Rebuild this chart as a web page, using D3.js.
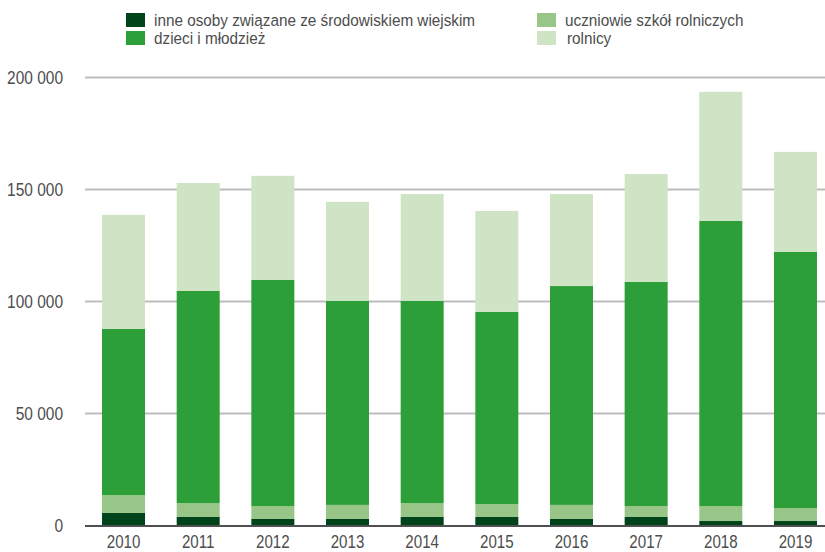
<!DOCTYPE html>
<html><head><meta charset="utf-8">
<script src="https://cdn.jsdelivr.net/npm/d3@7"></script>
<style>
body{margin:0;background:#fff;}
text{font-family:"Liberation Sans",Arial,sans-serif;}
</style></head>
<body><svg id="c" width="825" height="552"></svg>
<script>
const years = ["2010","2011","2012","2013","2014","2015","2016","2017","2018","2019"];
const inne = [5600,3800,2900,2900,3800,3800,2900,3800,2000,2000];
const uczniowie = [8000,6200,5800,6300,6200,5800,6300,4900,6700,5800];
const dzieci = [74200,94700,100900,91100,90300,85800,97700,100100,127300,114300];
const rolnicy = [50900,48200,46500,44200,47700,45000,41100,48100,57600,44700];
const seriesNames = ["inne osoby związane ze środowiskiem wiejskim","uczniowie szkół rolniczych","dzieci i młodzież","rolnicy"];
const colors = ["#00441b","#98c688","#2c9f38","#cfe3c5"];
const yTicks = [0,50000,100000,150000,200000];

const svg = d3.select("#c");
const x = d3.scaleBand().domain(years).range([85,834]).paddingInner(0.424).paddingOuter(0.228);
const y = d3.scaleLinear().domain([0,200000]).range([525.5,77.5]);

const fmt = v => d3.format(",")(v).replace(/,/g," ");

// gridlines
svg.append("g").selectAll("line").data(yTicks.filter(d=>d>0)).join("line")
  .attr("x1",85).attr("x2",825).attr("y1",d=>y(d)).attr("y2",d=>y(d))
  .attr("stroke","#bdbdbd").attr("stroke-width",2);
svg.append("g").selectAll("g").data(yTicks).join("g")
  .attr("transform",d=>`translate(63,${y(d)+6.5}) scale(0.86,1)`)
  .append("text").attr("text-anchor","end")
  .attr("font-size",18).attr("fill","#4d4d4d").text(fmt);

const table = years.map((yr,i)=>({year:yr, inne:inne[i], uczniowie:uczniowie[i], dzieci:dzieci[i], rolnicy:rolnicy[i]}));
const keys = ["inne","uczniowie","dzieci","rolnicy"];
const stacked = d3.stack().keys(keys)(table);

svg.append("g").selectAll("g").data(stacked).join("g")
  .attr("fill",(d,i)=>colors[i])
  .selectAll("rect").data(d=>d).join("rect")
  .attr("x",d=>x(d.data.year)).attr("width",x.bandwidth())
  .attr("y",d=>y(d[1])).attr("height",d=>y(d[0])-y(d[1]));

// baseline
svg.append("line").attr("x1",85).attr("x2",825).attr("y1",526).attr("y2",526)
  .attr("stroke","#505050").attr("stroke-width",2);

svg.append("g").selectAll("g").data(years).join("g")
  .attr("transform",d=>`translate(${x(d)+x.bandwidth()/2},548) scale(0.84,1)`)
  .append("text").attr("text-anchor","middle")
  .attr("font-size",18).attr("fill","#4d4d4d").text(d=>d);

// legend
const legPos = [[126,13],[537,13],[126,31],[537,31]];
const lg = svg.append("g").selectAll("g").data(seriesNames).join("g")
  .attr("transform",(d,i)=>`translate(${legPos[i][0]},${legPos[i][1]})`);
lg.append("rect").attr("width",19).attr("height",14).attr("fill",(d,i)=>colors[i]);
lg.append("g").attr("transform",(d,i)=>`translate(${i==3?30:28},12.5) scale(0.9,1)`)
  .append("text").attr("font-size",17).attr("fill","#4d4d4d").text(d=>d);
</script></body></html>
